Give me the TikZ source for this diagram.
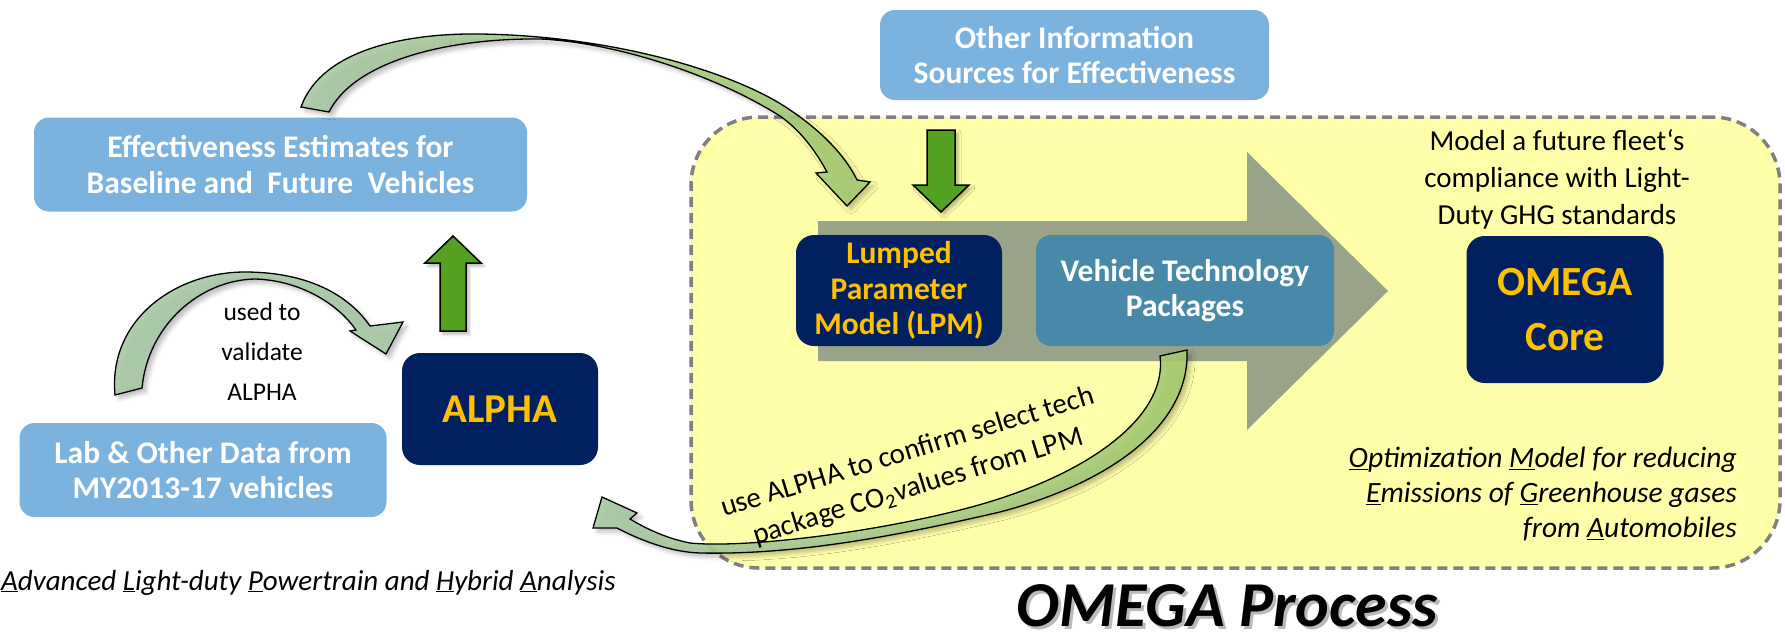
\documentclass[tikz,border=0pt]{standalone}
\usepackage{fontspec}
\setmainfont{Carlito}
\usetikzlibrary{shadows.blur}
\definecolor{lblue}{RGB}{124,178,222}
\definecolor{navy}{RGB}{0,32,96}
\definecolor{gold}{RGB}{255,192,0}
\definecolor{techblue}{RGB}{72,136,168}
\definecolor{arrgrey}{RGB}{152,163,138}
\definecolor{regionyellow}{RGB}{255,255,170}
\definecolor{dashgrey}{RGB}{128,128,128}
\definecolor{blockgreen}{RGB}{84,161,33}
\definecolor{cgrey}{RGB}{168,200,166}
\definecolor{cgreen}{RGB}{166,204,112}
\newcommand{\bxfont}{\fontsize{31.5}{35.5}\selectfont\bfseries}
\newcommand{\bigfont}{\fontsize{41.5}{55}\selectfont\bfseries}
\begin{document}
\begin{tikzpicture}[x=1pt,y=-1pt,
  bluebox/.style={fill=lblue, rounded corners=15pt, inner sep=0pt, text=white, align=center, font=\bxfont},
  navybox/.style={fill=navy, rounded corners=18pt, inner sep=0pt, text=gold, align=center},
  blockarrow/.style={fill=blockgreen, draw=black, line width=1.5pt, line join=miter,
     blur shadow={shadow xshift=3pt, shadow yshift=-3pt, shadow blur radius=3pt, shadow opacity=30}},
  curvarrow/.style={draw=black, line width=1.3pt, line join=miter, fill opacity=0.9,
     blur shadow={shadow xshift=4pt, shadow yshift=-4pt, shadow blur radius=4pt, shadow opacity=25}},
  note/.style={inner sep=0pt, align=center, text=black}
]
\useasboundingbox (0,0) rectangle (1785,635);

% OMEGA region
\node[fill=regionyellow, draw=dashgrey, line width=3.5pt, dash pattern=on 10pt off 6pt,
      rounded corners=68pt, minimum width=1089pt, minimum height=451pt, inner sep=0pt]
      (region) at (1235.5,342.5) {};

% big grey process arrow
\fill[arrgrey] (818,221) -- (1247,221) -- (1247,152) -- (1388,291) -- (1247,430)
   -- (1247,361) -- (818,361) -- cycle;

% boxes
\node[bluebox, minimum width=493pt, minimum height=94pt] (eff) at (280.5,164.5)
   {Effectiveness Estimates for\\Baseline and~ Future~ Vehicles};
\node[bluebox, minimum width=389pt, minimum height=90pt] (other) at (1074.5,55)
   {Other Information\\Sources for Effectiveness};
\node[bluebox, minimum width=367pt, minimum height=94pt] (lab) at (203,470)
   {Lab \& Other Data from\\MY2013-17 vehicles};
\node[navybox, minimum width=196pt, minimum height=112pt, font=\fontsize{41}{45}\selectfont\bfseries] (alpha) at (500,409) {ALPHA};
\node[navybox, minimum width=206pt, minimum height=111pt, font=\bxfont] (lpm) at (899,290.5)
   {Lumped\\Parameter\\Model (LPM)};
\node[bluebox, fill=techblue, minimum width=298pt, minimum height=111pt] (veh) at (1185,290.5)
   {Vehicle Technology\\Packages};
\node[navybox, minimum width=197pt, minimum height=147pt, font=\bigfont] (omega) at (1565,309.5)
   {OMEGA\\Core};

% green block arrows
\draw[blockarrow] (440,331) -- (440,263) -- (425,263) -- (453,236) -- (481,263)
   -- (466,263) -- (466,331) -- cycle;
\draw[blockarrow] (927,130) -- (955,130) -- (955,185) -- (969,185) -- (941,212)
   -- (913,185) -- (927,185) -- cycle;

% texts
\node[note, font=\fontsize{25.5}{40}\selectfont] (usedto) at (262,352) {used to\\validate\\ALPHA};
\node[note, font=\fontsize{29}{37}\selectfont] (model) at (1557,179)
   {Model a future fleet‘s\\compliance with Light-\\Duty GHG standards};
\node[note, align=right, anchor=east, font=\fontsize{29.5}{35}\selectfont\itshape] (optim) at (1737,494)
   {\underline{O}ptimization \underline{M}odel for reducing\\\underline{E}missions of \underline{G}reenhouse gases\\from \underline{A}utomobiles};
\node[note, anchor=base west, font=\fontsize{29}{33}\selectfont\itshape] (advanced) at (1,590)
   {\underline{A}dvanced \underline{L}ight-duty \underline{P}owertrain and \underline{H}ybrid \underline{A}nalysis};
\node[note, anchor=base, text=black!45, opacity=0.6, font=\fontsize{64}{70}\selectfont\bfseries\itshape] (procshadow) at (1230,629) {OMEGA Process};
\node[note, anchor=base, font=\fontsize{64}{70}\selectfont\bfseries\itshape] (proc) at (1227,626) {OMEGA Process};

% curved arrows
\draw[curvarrow, left color=cgrey, right color=cgreen]
  (301,107) .. controls (322,48) and (410,33) .. (480,34)
  .. controls (620,36) and (740,75) .. (790,110)
  .. controls (820,130) and (845,155) .. (857,180)
  -- (870,182) -- (847,206) -- (816,173) -- (827,172)
  .. controls (815,150) and (800,130) .. (780,116)
  .. controls (710,72) and (610,42) .. (540,39)
  .. controls (450,38) and (355,60) .. (329,112) -- cycle;

\draw[curvarrow, fill=cgrey]
  (115,395) .. controls (108,320) and (175,272) .. (245,272)
  .. controls (300,272) and (345,290) .. (370,326)
  -- (403,322) -- (386,354) -- (350,331) -- (356,330)
  .. controls (335,300) and (295,280) .. (255,279)
  .. controls (200,280) and (148,325) .. (142,388) -- cycle;

\draw[curvarrow, left color=cgrey, right color=cgreen]
  (1160,356) .. controls (1168,420) and (1080,480) .. (960,510)
  .. controls (860,535) and (740,548) .. (690,543)
  .. controls (665,538) and (645,528) .. (630,519)
  -- (637,513) -- (602,497) -- (593,528) -- (617,528)
  .. controls (640,540) and (670,552) .. (700,553)
  .. controls (800,555) and (900,535) .. (1000,512)
  .. controls (1120,480) and (1190,420) .. (1187,350) -- cycle;

\node[note, rotate=17, font=\fontsize{29}{36}\selectfont] (usealpha) at (913,470)
   {use ALPHA to confirm select tech\\package CO\textsubscript{2}values from LPM};
\end{tikzpicture}
\end{document}
